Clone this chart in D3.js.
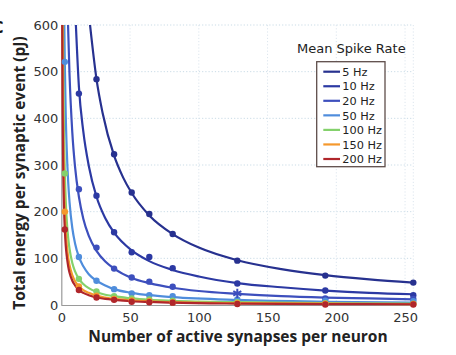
<!DOCTYPE html>
<html><head><meta charset="utf-8">
<script src="https://cdn.jsdelivr.net/npm/d3@7"></script>
<style>
html,body{margin:0;padding:0;background:#fff;}
svg{display:block;}
</style></head>
<body>
<script>
// ---- data ----
const rates = ["5 Hz","10 Hz","20 Hz","50 Hz","100 Hz","150 Hz","200 Hz"];
const colors = ["#27318f","#2c39a3","#3d4fbd","#4f8ddc","#84d16c","#f5982c","#b0262b"];
const xTicks = [0,50,100,150,200,250];
const yTicks = [0,100,200,300,400,500,600];

const curve5   = [[20.9,600],[25.6,484],[30,412],[38.4,320],[45,273],[51.2,240],[64,192],[81,152],[100,123],[128,96],[160,77],[192,64],[224,55],[256,48]];
const curve10  = [[10.6,600],[12.8,468],[16,372],[20,298],[25.6,232],[32,186],[38.4,155],[51.2,117],[64,94],[81,75],[100,61],[128,47],[160,38],[192,31],[224,26],[256,23]];
const curve20  = [[4.9,600],[6,492],[8,370],[10,296],[12.8,232],[16,185],[20,148],[25.6,116],[32,93],[38.4,78],[51.2,58],[64,47],[81,37],[100,30],[128,24],[160,19],[192,16],[224,14],[256,12]];
const curve50  = [[2.2,600],[2.56,518],[3.2,412],[4,330],[5,264],[6,220],[8,165],[10,132],[12.8,103],[16,83],[20,66],[25.6,52],[32,42],[38.4,34],[51.2,26],[64,21],[81,17],[128,11],[192,7],[256,5]];
const curve100 = [[1.2,600],[1.6,450],[2,360],[2.56,282],[3.2,225],[4,180],[5,144],[6,120],[8,90],[10,72],[12.8,56],[16,45],[20,36],[25.6,28],[32,22],[38.4,19],[51.2,14],[64,11],[81,9],[128,6],[192,4],[256,3]];
const curve150 = [[0.85,600],[1.2,425],[1.6,320],[2,256],[2.56,200],[3.2,160],[4,128],[5,102],[6,85],[8,64],[10,51],[12.8,40],[16,32],[20,26],[25.6,20],[32,16],[38.4,13],[51.2,10],[64,8],[81,6],[128,4],[192,3],[256,2]];
const curve200 = [[0.68,600],[1,410],[1.4,293],[2,205],[2.56,162],[3.2,128],[4,104],[5,83],[6,69],[8,52],[10,42],[12.8,32],[16,26],[20,21],[25.6,16],[32,13],[38.4,11],[51.2,8],[64,6.5],[81,5],[128,3],[192,2],[256,1.6]];

// measured points [synapses, pJ]
const pts5   = [[25.6,484],[38.4,323],[51.2,241],[64,195],[81,152],[128,95],[192,63],[256,48]];
const pts10  = [[12.8,453],[25.6,234],[38.4,156],[51.2,113],[64,103],[81,79],[128,46],[192,31],[256,21]];
const pts20  = [[12.8,248],[25.6,123],[38.4,78],[51.2,59],[64,50],[81,39],[192,14],[256,13]];
const pts50  = [[2.56,521],[12.8,103],[25.6,52],[38.4,34],[51.2,25],[64,21],[81,19],[128,12],[192,9],[256,8]];
const pts100 = [[2.56,282],[12.8,56],[25.6,29],[38.4,19],[51.2,14],[64,12],[81,9],[128,6],[192,4],[256,3]];
const pts150 = [[2.56,200],[12.8,40],[25.6,20],[38.4,13],[51.2,10],[64,8],[81,6],[128,4],[192,3],[256,2]];
const pts200 = [[2.56,162],[12.8,32],[25.6,16],[38.4,11],[51.2,7],[64,6],[81,5],[128,2],[192,1],[256,1]];
const starPts = [[128,25]]; // star marker on 20 Hz curve

const curves = [curve5,curve10,curve20,curve50,curve100,curve150,curve200];
const points = [pts5,pts10,pts20,pts50,pts100,pts150,pts200];

// ---- layout ----
const W = 456, H = 355;
const x0 = 61.3, x1 = 413.3, yTop = 25, yBot = 305;

const svg = d3.select("body").append("svg").attr("width",W).attr("height",H)
  .style("font-family","'DejaVu Sans', sans-serif");

const x = d3.scaleLinear().domain([0,256]).range([x0,x1]);
const y = d3.scaleLinear().domain([0,600]).range([yBot,yTop]);

svg.append("defs").append("clipPath").attr("id","clip")
  .append("rect").attr("x",x0-1).attr("y",yTop).attr("width",x1-x0+8).attr("height",yBot-yTop+6);

// grid
const grid = svg.append("g");
grid.selectAll("line.h").data(yTicks.filter(d=>d>0)).join("line")
  .attr("x1",x0).attr("x2",x1).attr("y1",d=>y(d)).attr("y2",d=>y(d))
  .attr("stroke","#c9dbe6").attr("stroke-width",1).attr("stroke-dasharray","1.2,2");
grid.selectAll("line.v").data(xTicks.filter(d=>d>0).concat([256])).join("line")
  .attr("y1",yTop).attr("y2",yBot).attr("x1",d=>x(d)).attr("x2",d=>x(d))
  .attr("stroke","#dde6ee").attr("stroke-width",1).attr("stroke-dasharray","1.2,2");

// axes
const xAxis = d3.axisBottom(x).tickValues(xTicks).tickSize(0).tickPadding(8);
const yAxis = d3.axisLeft(y).tickValues(yTicks).tickSize(0).tickPadding(3);
const gx = svg.append("g").attr("transform",`translate(0,${yBot})`).call(xAxis);
const gy = svg.append("g").attr("transform",`translate(${x0},0)`).call(yAxis);
[gx,gy].forEach(g=>{
  g.select(".domain").attr("stroke","#9a9a9a").attr("stroke-width",1.2);
  g.selectAll("text").attr("font-family","'DejaVu Sans', sans-serif")
    .attr("font-size",13).attr("fill","#333");
});
gx.select(".domain").attr("d",`M${x0},0.5H${x1}`);
gy.select(".domain").attr("d",`M0.5,${yBot}V${yTop}`);

// curves
const line = d3.line().x(d=>x(d[0])).y(d=>y(d[1])).curve(d3.curveMonotoneX);
const plot = svg.append("g").attr("clip-path","url(#clip)");
curves.forEach((c,i)=>{
  plot.append("path").datum(c).attr("d",line).attr("fill","none")
    .attr("stroke",colors[i]).attr("stroke-width",2.2);
});
points.forEach((p,i)=>{
  plot.selectAll(null).data(p).join("circle")
    .attr("cx",d=>x(d[0])).attr("cy",d=>y(d[1])).attr("r",3.2)
    .attr("fill",colors[i]);
});
plot.selectAll(null).data(starPts).join("path")
  .attr("transform",d=>`translate(${x(d[0])},${y(d[1])})`)
  .attr("d",d3.symbol(d3.symbolAsterisk,60))
  .attr("fill","none").attr("stroke",colors[2]).attr("stroke-width",2);

// axis titles
svg.append("text").attr("x",238).attr("y",342)
  .attr("text-anchor","middle").attr("font-family","'Open Sans', sans-serif")
  .attr("font-weight",700).attr("font-size",15.5).attr("fill","#222")
  .text("Number of active synapses per neuron");
svg.append("text").attr("transform","translate(25,173) rotate(-90)")
  .attr("text-anchor","middle").attr("font-family","'Open Sans', sans-serif")
  .attr("font-weight",700).attr("font-size",15.5).attr("fill","#222")
  .text("Total energy per synaptic event (pJ)");

// panel label
svg.append("text").attr("x",-7.5).attr("y",33)
  .attr("font-family","'DejaVu Sans', sans-serif").attr("font-weight",700)
  .attr("font-size",15).attr("fill","#111").text("C");

// legend
svg.append("text").attr("x",351.3).attr("y",53.3).attr("text-anchor","middle")
  .attr("font-size",13).attr("fill","#222").text("Mean Spike Rate");
svg.append("rect").attr("x",316.7).attr("y",61.7).attr("width",68.3).attr("height",105)
  .attr("fill","#fff").attr("stroke","#5e4d4a").attr("stroke-width",1.3);
const lg = svg.append("g");
rates.forEach((r,i)=>{
  const yy = 71.7 + i*14.55;
  lg.append("line").attr("x1",323.3).attr("x2",340).attr("y1",yy).attr("y2",yy)
    .attr("stroke",colors[i]).attr("stroke-width",2.2);
  lg.append("text").attr("x",342.3).attr("y",yy+4.2).attr("font-size",11.3)
    .attr("fill","#222").text(r);
});
</script>
</body></html>
